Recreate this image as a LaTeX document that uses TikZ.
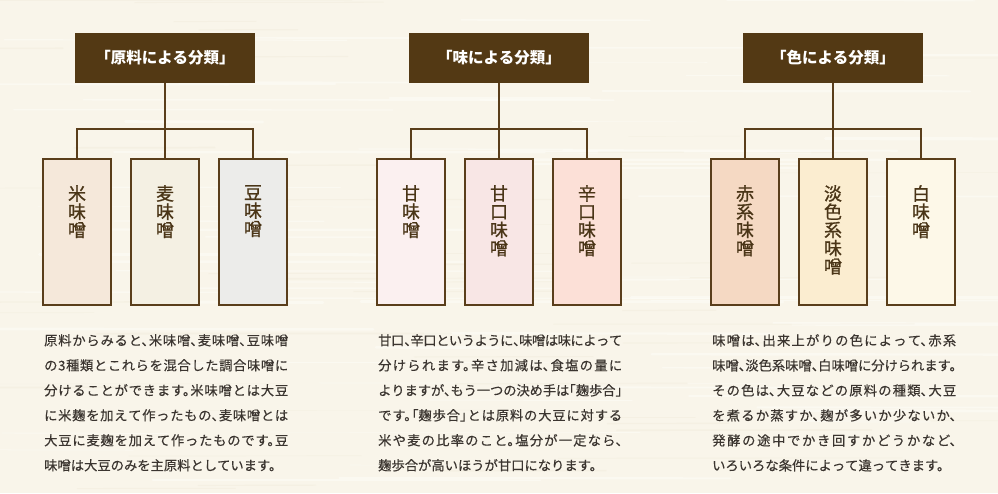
\documentclass[tikz,border=0pt]{standalone}
\usepackage{fontspec}
\newfontfamily\jpfont{Noto Sans CJK JP}
\newfontfamily\jplabel{Noto Sans CJK JP}[FakeBold=0.9]
\newfontfamily\jpbody{Noto Sans CJK JP}[RawFeature=+halt, FakeBold=0.35]
\XeTeXlinebreaklocale "ja"
\XeTeXlinebreakskip=0pt plus 3pt minus 1.2pt

\definecolor{paper}{HTML}{F9F5EA}
\definecolor{grainlight}{HTML}{FEFDF8}
\definecolor{graindark}{HTML}{EFE8D6}
\definecolor{headbrown}{HTML}{533914}
\definecolor{linebrown}{HTML}{5A3E1B}
\definecolor{labelbrown}{HTML}{4A3517}
\definecolor{bodytext}{HTML}{3B3530}
% box fills
\definecolor{kome}{HTML}{F5E8DA}
\definecolor{mugi}{HTML}{F4F0E3}
\definecolor{mame}{HTML}{ECECEA}
\definecolor{ama}{HTML}{FBF0F0}
\definecolor{amakuchi}{HTML}{F8E6E5}
\definecolor{karakuchi}{HTML}{FCE0D7}
\definecolor{aka}{HTML}{F5D9C3}
\definecolor{tanshoku}{HTML}{FBEDD0}
\definecolor{shiro}{HTML}{FDF8E8}

\tikzset{
  headbox/.style={fill=headbrown, draw=none, minimum width=180pt, minimum height=50pt,
    inner sep=0pt, text=white, font=\jpfont\bfseries\fontsize{15.5pt}{18pt}\selectfont},
  kindbox/.style={draw=linebrown, line width=1.1pt, minimum width=68pt, minimum height=146pt, inner sep=0pt},
  kindlabel/.style={anchor=north, inner sep=0pt, align=center, text=labelbrown,
    font=\jplabel\fontsize{18pt}{18.2pt}\selectfont},
  conn/.style={draw=linebrown, line width=1.1pt},
  bodypara/.style={anchor=north west, inner sep=0pt, text width=244pt, align=justify,
    text=bodytext, font=\jpbody\fontsize{13.3pt}{25pt}\selectfont},
}

\begin{document}
\begin{tikzpicture}[x=1pt, y=-1pt]
% paper background with light wood grain
\fill[paper] (0,0) rectangle (998,493);
\useasboundingbox (0,0) rectangle (998,493);
\pgfmathsetseed{11}
\foreach \i in {1,...,70}{
  \pgfmathsetmacro\gy{rnd*493}
  \pgfmathsetmacro\gx{rnd*900-60}
  \pgfmathsetmacro\gl{120+rnd*380}
  \pgfmathsetmacro\gw{0.6+rnd*2.6}
  \draw[grainlight, line width=\gw pt, opacity=0.5, line cap=round] (\gx,\gy) -- ++(\gl,0.4);
}
\foreach \i in {1,...,45}{
  \pgfmathsetmacro\gy{rnd*493}
  \pgfmathsetmacro\gx{rnd*900-60}
  \pgfmathsetmacro\gl{80+rnd*300}
  \pgfmathsetmacro\gw{0.4+rnd*1.4}
  \draw[graindark, line width=\gw pt, opacity=0.35, line cap=round] (\gx,\gy) -- ++(\gl,-0.3);
}

% ---------- group 1: by ingredient ----------
\node[headbox] (h1) at (165,58) {「原料による分類」};
\node[kindbox, fill=kome] (b11) at (77,232) {};
\node[kindbox, fill=mugi] (b12) at (165,232) {};
\node[kindbox, fill=mame] (b13) at (253,232) {};
\node[kindlabel] (l11) at (77,185) {米\\味\\噌};
\node[kindlabel] (l12) at (165,185) {麦\\味\\噌};
\node[kindlabel] (l13) at (253,185) {豆\\味\\噌};
\coordinate (j1) at (165,129);
\draw[conn] (h1.south) -- (b12.north);
\draw[conn] (b11.north) |- (j1) -| (b13.north);
\node[bodypara] (p1) at (44,334) {原料からみると、米味噌、麦味噌、豆味噌\linebreak
の3種類とこれらを混合した調合味噌に\linebreak
分けることができます。米味噌とは大豆\linebreak
に米麹を加えて作ったもの、麦味噌とは\linebreak
大豆に麦麹を加えて作ったものです。豆\linebreak
味噌は大豆のみを主原料としています。};

% ---------- group 2: by taste ----------
\node[headbox] (h2) at (499,58) {「味による分類」};
\node[kindbox, fill=ama] (b21) at (411,232) {};
\node[kindbox, fill=amakuchi] (b22) at (499,232) {};
\node[kindbox, fill=karakuchi] (b23) at (587,232) {};
\node[kindlabel] (l21) at (411,185) {甘\\味\\噌};
\node[kindlabel] (l22) at (499,185) {甘\\口\\味\\噌};
\node[kindlabel] (l23) at (587,185) {辛\\口\\味\\噌};
\coordinate (j2) at (499,129);
\draw[conn] (h2.south) -- (b22.north);
\draw[conn] (b21.north) |- (j2) -| (b23.north);
\node[bodypara] (p2) at (378,334) {甘口、辛口というように、味噌は味によって\linebreak
分けられます。辛さ加減は、食塩の量に\linebreak
よりますが、もう一つの決め手は「麹歩合」\linebreak
です。「麹歩合」とは原料の大豆に対する\linebreak
米や麦の比率のこと。塩分が一定なら、\linebreak
麹歩合が高いほうが甘口になります。};

% ---------- group 3: by colour ----------
\node[headbox] (h3) at (833,58) {「色による分類」};
\node[kindbox, fill=aka] (b31) at (745,232) {};
\node[kindbox, fill=tanshoku] (b32) at (833,232) {};
\node[kindbox, fill=shiro] (b33) at (921,232) {};
\node[kindlabel] (l31) at (745,185) {赤\\系\\味\\噌};
\node[kindlabel] (l32) at (833,185) {淡\\色\\系\\味\\噌};
\node[kindlabel] (l33) at (921,185) {白\\味\\噌};
\coordinate (j3) at (833,129);
\draw[conn] (h3.south) -- (b32.north);
\draw[conn] (b31.north) |- (j3) -| (b33.north);
\node[bodypara] (p3) at (712,334) {味噌は、出来上がりの色によって、赤系\linebreak
味噌、淡色系味噌、白味噌に分けられます。\linebreak
その色は、大豆などの原料の種類、大豆\linebreak
を煮るか蒸すか、麹が多いか少ないか、\linebreak
発酵の途中でかき回すかどうかなど、\linebreak
いろいろな条件によって違ってきます。};
\end{tikzpicture}
\end{document}
